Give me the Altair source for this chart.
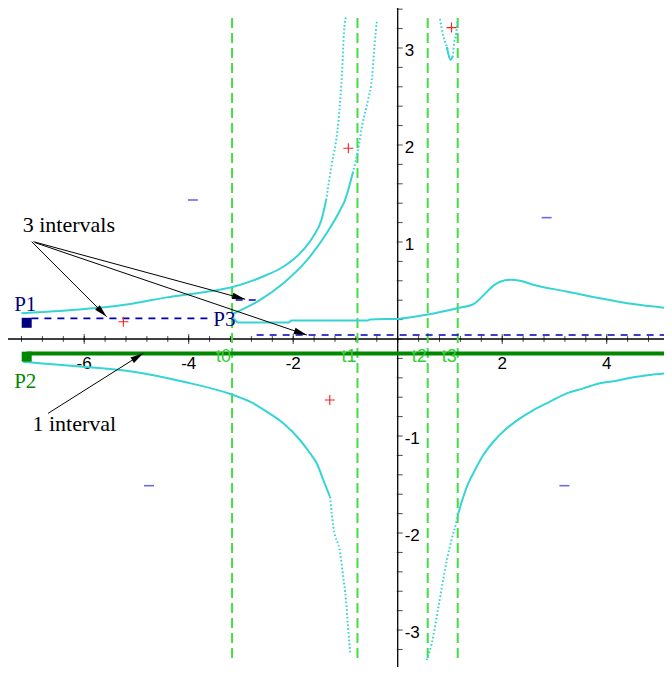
import math
import altair as alt
import pandas as pd

# ---------------- frame ----------------
X_MIN, X_MAX = -7.458, 5.096
Y_MIN, Y_MAX = -3.381, 3.412
W, H = 656, 659
PX_X = W / (X_MAX - X_MIN)
PX_Y = H / (Y_MAX - Y_MIN)

# ---------------- data ----------------
# cyan curves (solid and dotted parts)
outer_x = [-7.20, -5.83, -5.06, -4.42, -3.78, -3.18, -2.83, -2.51, -2.19, -1.87, -1.62, -1.46, -1.37]
outer_y = [0.265, 0.316, 0.367, 0.429, 0.477, 0.533, 0.591, 0.660, 0.745, 0.883, 1.055, 1.227, 1.43]
outer_dot_x = [-1.37, -1.26, -1.16, -1.10, -1.06, -1.03, -0.99]
outer_dot_y = [1.43, 1.81, 2.12, 2.46, 2.80, 3.15, 3.32]

inner_x = [-3.15, -2.64, -2.20, -1.74, -1.36, -1.10, -1.01, -0.86]
inner_y = [0.26, 0.40, 0.57, 0.81, 1.09, 1.33, 1.43, 1.71]
inner_dot_x = [-0.86, -0.76, -0.67, -0.57, -0.49, -0.44, -0.40]
inner_dot_y = [1.71, 1.95, 2.23, 2.46, 2.70, 3.05, 3.27]

mid_x = [-3.15, -3.05, -2.09, -2.03, -0.59, -0.53, 0.04, 0.55, 1.16, 1.45, 1.64, 1.83, 1.96,
         2.15, 2.34, 2.59, 3.23, 3.87, 4.50, 5.15]
mid_y = [0.22, 0.17, 0.17, 0.19, 0.19, 0.20, 0.21, 0.25, 0.32, 0.36, 0.45, 0.55, 0.59,
         0.61, 0.60, 0.56, 0.49, 0.42, 0.36, 0.32]

lowl_x = [-7.17, -6.85, -6.02, -5.06, -4.10, -3.146, -2.827, -2.507, -2.189, -1.87, -1.678,
          -1.55, -1.424, -1.296]
lowl_y = [-0.234, -0.25, -0.286, -0.337, -0.44, -0.577, -0.646, -0.749, -0.869, -1.041, -1.178,
          -1.281, -1.454, -1.626]
lowl_dot_x = [-1.296, -1.23, -1.10, -1.05, -0.99, -0.95, -0.91]
lowl_dot_y = [-1.626, -1.94, -2.21, -2.42, -2.69, -2.97, -3.23]

lowr_dot_x = [0.555, 0.65, 0.78, 0.87, 0.94, 1.03, 1.13, 1.16]
lowr_dot_y = [-3.31, -3.14, -2.76, -2.48, -2.28, -2.07, -1.87, -1.797]
lowr_x = [1.16, 1.256, 1.351, 1.479, 1.638, 1.83, 2.086, 2.34, 2.595, 2.915, 3.234, 3.552,
          3.87, 4.19, 4.51, 4.83, 5.15]
lowr_y = [-1.797, -1.626, -1.488, -1.35, -1.196, -1.059, -0.921, -0.818, -0.732, -0.646, -0.56,
          -0.509, -0.457, -0.43, -0.395, -0.371, -0.354]

top_dot_x = [0.81, 0.86, 0.94, 1.01, 1.05, 1.08, 1.12, 1.14]
top_dot_y = [3.30, 3.15, 3.01, 2.88, 2.91, 3.05, 3.15, 3.27]
top_x = [0.94, 1.01, 1.05]
top_y = [3.01, 2.88, 2.91]

# vertical lines
t_names = ["t0", "t1", "t2", "t3"]
t_vals = [-3.17, -0.77, 0.574, 1.148]
t_top, t_bottom = 3.31, -3.33

# intervals
p1_interval = [-7.01, -3.59]; p1_level = 0.213
p3a_interval = [-3.10, -2.64]; p3a_level = 0.402
p3b_interval = [-2.70, 5.20]; p3b_level = 0.041
p2_interval = [-7.10, 5.20]; p2_level = -0.15
p1_square = (-7.10, 0.167)
p2_square = (-7.10, -0.182)

# markers
plus_x = [-5.25, -0.945, 1.03, -1.30]
plus_y = [0.178, 1.966, 3.21, -0.629]
minus_x = [-3.92, 2.85, -4.76, 3.19]
minus_y = [1.433, 1.251, -1.512, -1.512]

# arrows (start -> tip)
arrow_x0 = [-7.005, -6.97, -6.94, -6.69]
arrow_y0 = [1.003, 1.003, 0.993, -0.766]
arrow_x1 = [-5.57, -2.92, -1.74, -4.87]
arrow_y1 = [0.23, 0.41, 0.041, -0.147]

# texts
note_text = ["3 intervals", "1 interval"]
note_x = [-7.177, -6.99]
note_y = [1.108, -0.945]
plabel_text = ["P1", "P2", "P3"]
plabel_x = [-7.34, -7.34, -3.53]
plabel_y = [0.292, -0.505, 0.134]
plabel_color = ["#000080", "#008800", "#000080"]

# axes
xtick_labels = [-6, -4, -2, 2, 4]
ytick_labels = [-3, -2, -1, 1, 2, 3]
xminor = [round(-7.2 + 0.4 * i, 2) for i in range(32)]
yminor = [round(-3.2 + 0.2 * i, 2) for i in range(34)]

# ---------------- chart ----------------
xs = alt.Scale(domain=[X_MIN, X_MAX], nice=False, zero=False)
ys = alt.Scale(domain=[Y_MIN, Y_MAX], nice=False, zero=False)

CYAN = "#36D4D4"


def X(f="x"):
    return alt.X(f"{f}:Q", scale=xs, axis=None)


def Y(f="y"):
    return alt.Y(f"{f}:Q", scale=ys, axis=None)


def curve(xv, yv, dotted=False):
    df = pd.DataFrame({"x": xv, "y": yv, "i": list(range(len(xv)))})
    kw = dict(color=CYAN, strokeWidth=2, clip=True, interpolate="monotone")
    if dotted:
        kw.update(strokeDash=[1.6, 2.2], strokeWidth=2)
    return alt.Chart(df).mark_line(**kw).encode(x=X(), y=Y(), order=alt.Order("i:Q"))


layers = []

# axes lines
layers.append(alt.Chart(pd.DataFrame({"y": [0]})).mark_rule(color="black", strokeWidth=1.3).encode(y=Y()))
layers.append(alt.Chart(pd.DataFrame({"x": [0]})).mark_rule(color="black", strokeWidth=1.3).encode(x=X()))
layers.append(
    alt.Chart(pd.DataFrame({"x": xminor, "y": [0] * len(xminor)}))
    .mark_tick(color="black", orient="vertical", size=6, thickness=1)
    .encode(x=X(), y=Y())
)
layers.append(
    alt.Chart(pd.DataFrame({"x": xtick_labels, "y": [0] * len(xtick_labels)}))
    .mark_tick(color="black", orient="vertical", size=10, thickness=1)
    .encode(x=X(), y=Y())
)
layers.append(
    alt.Chart(pd.DataFrame({"y": yminor, "x": [0] * len(yminor)}))
    .mark_tick(color="black", orient="horizontal", size=6, thickness=1, xOffset=2)
    .encode(x=X(), y=Y())
)
layers.append(
    alt.Chart(pd.DataFrame({"x": xtick_labels, "y": [0] * len(xtick_labels), "t": [str(v) for v in xtick_labels]}))
    .mark_text(font="Liberation Sans", fontSize=17, align="center", baseline="alphabetic", dy=30, color="black")
    .encode(x=X(), y=Y(), text="t:N")
)
layers.append(
    alt.Chart(pd.DataFrame({"y": ytick_labels, "x": [0] * len(ytick_labels), "t": [str(v) for v in ytick_labels]}))
    .mark_text(font="Liberation Sans", fontSize=17, align="left", baseline="middle", dx=7, dy=3, color="black")
    .encode(x=X(), y=Y(), text="t:N")
)

# green dashed vertical lines
tdf = pd.DataFrame({"x": t_vals, "y": [t_top] * 4, "y2": [t_bottom] * 4, "t": t_names, "y0": [0] * 4})
layers.append(
    alt.Chart(tdf).mark_rule(color="#44DD44", strokeWidth=2, strokeDash=[10, 5])
    .encode(x=X(), y=Y(), y2="y2:Q")
)

# cyan curves
layers += [
    curve(outer_x, outer_y), curve(outer_dot_x, outer_dot_y, True),
    curve(inner_x, inner_y), curve(inner_dot_x, inner_dot_y, True),
    curve(mid_x, mid_y),
    curve(lowl_x, lowl_y), curve(lowl_dot_x, lowl_dot_y, True),
    curve(lowr_dot_x, lowr_dot_y, True), curve(lowr_x, lowr_y),
    curve(top_dot_x, top_dot_y, True), curve(top_x, top_y),
]

# intervals
ivdf = pd.DataFrame({
    "x": [p1_interval[0], p3a_interval[0], p3b_interval[0]],
    "x2": [p1_interval[1], p3a_interval[1], p3b_interval[1]],
    "y": [p1_level, p3a_level, p3b_level],
})
layers.append(
    alt.Chart(ivdf).mark_rule(color="#0000B8", strokeWidth=1.6, strokeDash=[7, 6], clip=True)
    .encode(x=X(), x2="x2:Q", y=Y())
)
layers.append(
    alt.Chart(pd.DataFrame({"x": [p2_interval[0]], "x2": [p2_interval[1]], "y": [p2_level]}))
    .mark_rule(color="#008800", strokeWidth=4, clip=True)
    .encode(x=X(), x2="x2:Q", y=Y())
)
layers.append(
    alt.Chart(pd.DataFrame({"x": [p1_square[0]], "y": [p1_square[1]]}))
    .mark_point(shape="square", filled=True, size=100, color="#000080", opacity=1)
    .encode(x=X(), y=Y())
)
layers.append(
    alt.Chart(pd.DataFrame({"x": [p2_square[0]], "y": [p2_square[1]]}))
    .mark_point(shape="square", filled=True, size=100, color="#008800", opacity=1)
    .encode(x=X(), y=Y())
)

# t labels drawn over the thick green line
layers.append(
    alt.Chart(tdf).mark_text(font="Liberation Sans", fontSize=18, align="right", baseline="alphabetic",
                             dx=-1, dy=22.5, color="#33CC33")
    .encode(x=X(), y=Y("y0"), text="t:N")
)

# arrows
adf = pd.DataFrame({"x": arrow_x0, "y": arrow_y0, "x2": arrow_x1, "y2": arrow_y1})
angles = []
for a, b, c, d in zip(arrow_x0, arrow_y0, arrow_x1, arrow_y1):
    dx = (c - a) * PX_X
    dy = -(d - b) * PX_Y
    angles.append(math.degrees(math.atan2(dx, -dy)) % 360)
adf["ang"] = angles
layers.append(
    alt.Chart(adf).mark_rule(color="black", strokeWidth=1)
    .encode(x=X(), y=Y(), x2="x2:Q", y2="y2:Q")
)
layers.append(
    alt.Chart(adf).mark_point(shape="M0,0L-0.5,2L0.5,2Z", filled=True, size=169, color="black", opacity=1)
    .encode(x=X("x2"), y=Y("y2"), angle=alt.Angle("ang:Q", scale=None))
)

# texts
layers.append(
    alt.Chart(pd.DataFrame({"x": note_x, "y": note_y, "t": note_text}))
    .mark_text(font="Liberation Serif", fontSize=22, align="left", baseline="alphabetic", color="black")
    .encode(x=X(), y=Y(), text="t:N")
)
layers.append(
    alt.Chart(pd.DataFrame({"x": plabel_x, "y": plabel_y, "t": plabel_text, "c": plabel_color}))
    .mark_text(font="Liberation Serif", fontSize=21, align="left", baseline="alphabetic")
    .encode(x=X(), y=Y(), text="t:N", color=alt.Color("c:N", scale=None))
)

# markers on top
layers.append(
    alt.Chart(pd.DataFrame({"x": minus_x, "y": minus_y}))
    .mark_point(shape="M-1,0H1", filled=False, size=100, color="#6A6AE8", strokeWidth=1.6, opacity=1)
    .encode(x=X(), y=Y())
)
layers.append(
    alt.Chart(pd.DataFrame({"x": plus_x, "y": plus_y}))
    .mark_point(shape="M-1,0H1M0,-1V1", filled=False, size=100, color="#FF2020", strokeWidth=1.1, opacity=1)
    .encode(x=X(), y=Y())
)

chart = (
    alt.layer(*layers)
    .properties(width=W, height=H, autosize=alt.AutoSizeParams(type="none"), padding=0, background="white")
    .configure_view(stroke=None)
)

chart.save("out.html", embed_options={"renderer": "svg", "actions": False})
